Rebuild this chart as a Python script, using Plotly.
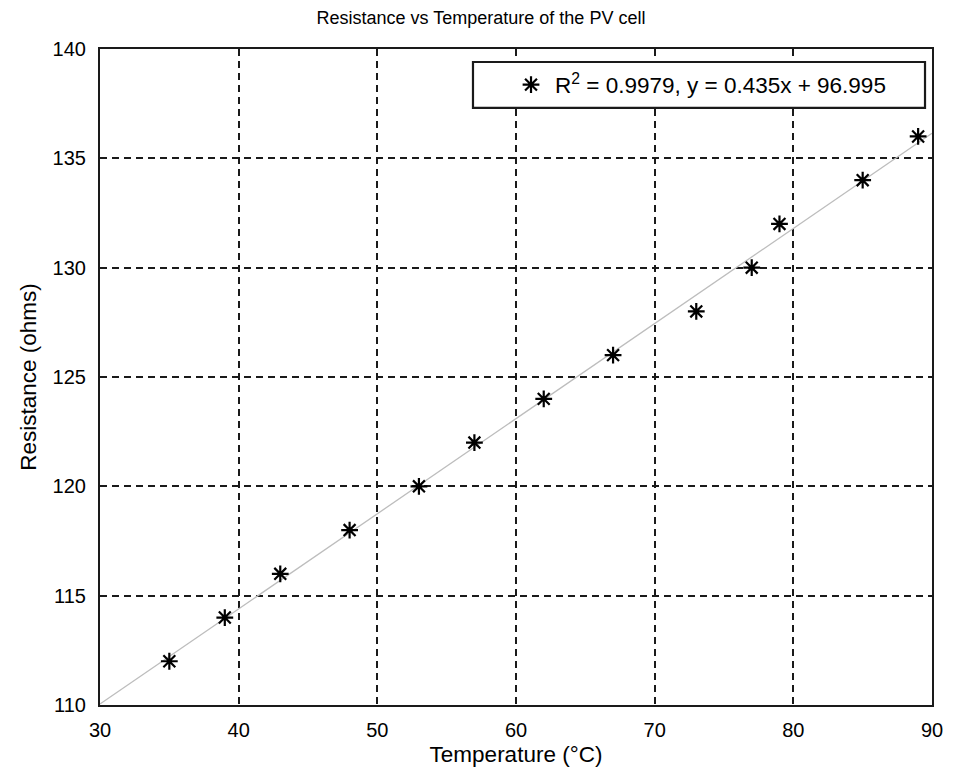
import plotly.graph_objects as go

temperature = [35, 39, 43, 48, 53, 57, 62, 67, 73, 77, 79, 85, 89]
resistance = [112, 114, 116, 118, 120, 122, 124, 126, 128, 130, 132, 134, 136]
slope = 0.435
intercept = 96.995
fit_x = [30, 90]
fit_y = [slope * x + intercept for x in fit_x]

fig = go.Figure()
fig.add_trace(go.Scatter(x=fit_x, y=fit_y, mode="lines",
                         line=dict(color="#bdbdbd", width=1.3), showlegend=False))
fig.add_trace(go.Scatter(x=temperature, y=resistance, mode="markers",
                         marker=dict(symbol="asterisk-open", size=14, color="black",
                                     line=dict(color="black", width=2.2)),
                         name="R<sup>2</sup> = 0.9979, y = 0.435x + 96.995"))

axis_common = dict(showline=True, mirror=True, linecolor="#1a1a1a", linewidth=2.2,
                   showgrid=True, gridcolor="#1a1a1a", griddash="7px,5px", gridwidth=2,
                   zeroline=False, ticks="", tickfont=dict(size=20, color="black"))

# legend frame drawn as a rectangle in plot-area (paper) coordinates
fig.add_shape(type="rect", xref="paper", yref="paper",
              x0=0.4483, x1=0.9916, y0=0.9101, y1=0.9802,
              line=dict(color="#1a1a1a", width=2.2), fillcolor="white", layer="above")

# page body has an 8px margin, so the figure is sized/offset to compensate
fig.update_layout(
    width=946, height=761,
    paper_bgcolor="white", plot_bgcolor="white",
    font=dict(family="Liberation Sans, Arial, sans-serif", color="black"),
    title=dict(text="Resistance vs Temperature of the PV cell", x=0.5, xanchor="center",
               y=0.987, yanchor="middle", font=dict(size=18, color="black")),
    margin=dict(l=92, r=22, t=41, b=64, autoexpand=False),
    xaxis=dict(range=[30, 90], dtick=10, ticklabelstandoff=6,
               title=dict(text="Temperature (°C)", font=dict(size=22.5), standoff=6),
               automargin=False, **axis_common),
    yaxis=dict(range=[110, 140], dtick=5, ticklabelstandoff=8,
               title=dict(text="Resistance (ohms)", font=dict(size=22.5), standoff=10),
               automargin=False, **axis_common),
    legend=dict(x=0.4892, y=0.9451, xanchor="left", yanchor="middle",
                bgcolor="rgba(0,0,0,0)", borderwidth=0,
                font=dict(size=22.5, color="black"), itemwidth=38),
    showlegend=True,
)

fig.write_html("out.html")
